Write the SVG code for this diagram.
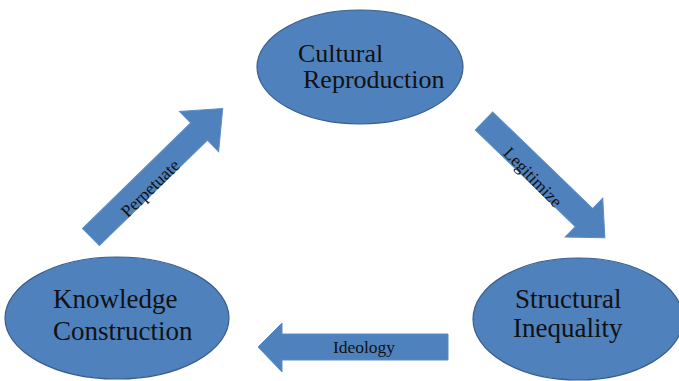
<svg xmlns="http://www.w3.org/2000/svg" width="679" height="381" viewBox="0 0 679 381">
<style>
.node{fill:#4F81BD;stroke:#3A5F8C;stroke-width:1.2}
.arrow{fill:#4F81BD;stroke:#5B8CC6;stroke-width:1}
text{font-family:'Liberation Serif','Times New Roman',serif;fill:#111111}
.big{font-size:26px}
.big2{font-size:27px}
.lbl{font-size:17.5px;text-anchor:middle}
</style>
<rect width="679" height="381" fill="#ffffff"/>
<g id="connectors">
  <g id="perpetuate">
    <path class="arrow" transform="translate(91,237) rotate(-44.3)" d="M0,-12 L151,-12 L151,-28 L184,0 L151,28 L151,12 L0,12 Z"/>
    <text class="lbl" transform="translate(150,188) rotate(-44.3)" dy="0.35em">Perpetuate</text>
  </g>
  <g id="legitimize">
    <path class="arrow" transform="translate(484,121) rotate(44)" d="M0,-12.5 L139,-12.5 L139,-27 L168,0 L139,27 L139,12.5 L0,12.5 Z"/>
    <text class="lbl" transform="translate(533,177) rotate(46)" dy="0.35em">Legitimize</text>
  </g>
  <g id="ideology">
    <path class="arrow" d="M448,334 L282,334 L282,323 L258,347 L282,372 L282,360 L448,360 Z"/>
    <text class="lbl" x="364" y="353">Ideology</text>
  </g>
</g>
<g id="cultural-reproduction">
  <ellipse class="node" cx="360" cy="67" rx="103" ry="57"/>
  <text class="big" x="298" y="62">Cultural</text>
  <text class="big" x="303" y="88">Reproduction</text>
</g>
<g id="knowledge-construction">
  <ellipse class="node" cx="117" cy="318" rx="112" ry="61"/>
  <text class="big2" x="53" y="308">Knowledge</text>
  <text class="big2" x="53" y="340">Construction</text>
</g>
<g id="structural-inequality">
  <ellipse class="node" cx="578" cy="319" rx="105" ry="61"/>
  <text class="big2" x="515" y="308">Structural</text>
  <text class="big2" x="513" y="337">Inequality</text>
</g>
</svg>
